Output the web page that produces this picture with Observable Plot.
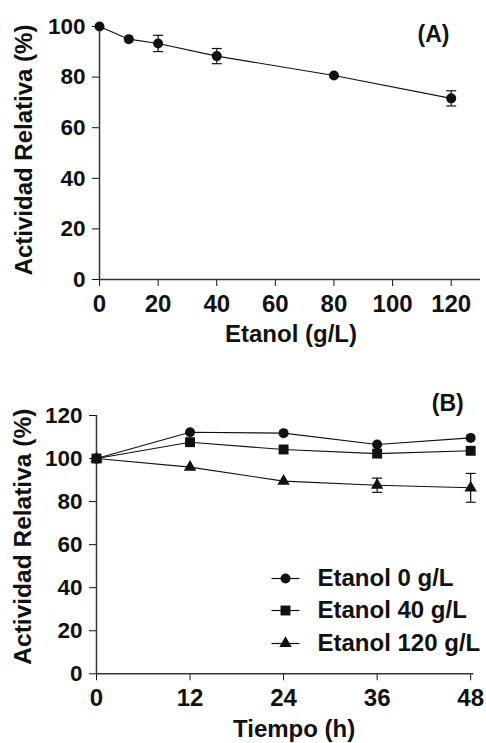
<!DOCTYPE html>
<html>
<head>
<meta charset="utf-8">
<script src="https://cdn.jsdelivr.net/npm/d3@7"></script>
<script src="https://cdn.jsdelivr.net/npm/@observablehq/plot@0.6"></script>
<style>
  html, body { margin: 0; padding: 0; background: #fff; }
  #chart svg { display: block; }
</style>
</head>
<body>
<div id="chart"></div>
<script>
// ---- Panel A data ----
const etanolA = [0, 10, 20, 40, 80, 120];
const actividadA = [100, 95.0, 93.3, 88.3, 80.6, 71.6];
const errorA = [0, 0, 3.2, 3.0, 0, 3.0];
const xTicksA = [0, 20, 40, 60, 80, 100, 120];
const yTicksA = [0, 20, 40, 60, 80, 100];

// ---- Panel B data ----
const tiempoB = [0, 12, 24, 36, 48];
const etanol0 = [100, 112.2, 111.8, 106.5, 109.6];
const etanol40 = [100, 107.6, 104.2, 102.3, 103.6];
const etanol120 = [100, 96.0, 89.5, 87.6, 86.4];
const error120 = [0, 0, 0, 3.3, 6.7];
const seriesNames = ["Etanol 0 g/L", "Etanol 40 g/L", "Etanol 120 g/L"];
const xTicksB = [0, 12, 24, 36, 48];
const yTicksB = [0, 20, 40, 60, 80, 100, 120];

const INK = "#111";
const FONT = "'Liberation Sans', Arial, sans-serif";
const hline = (w) => ({ draw(ctx) { ctx.moveTo(-w, 0); ctx.lineTo(w, 0); } });

const dataA = etanolA.map((x, i) => ({ x, y: actividadA[i], e: errorA[i] }));
const errA = dataA.filter(d => d.e > 0);

const plotA = Plot.plot({
  width: 486, height: 360,
  marginLeft: 99, marginRight: 6, marginTop: 26, marginBottom: 81,
  style: { fontFamily: FONT, fontWeight: "bold", color: INK, background: "#fff", overflow: "visible" },
  x: { domain: [0, 130] },
  y: { domain: [0, 100] },
  marks: [
    Plot.axisX({ ticks: xTicksA, tickSize: 7, tickPadding: 8, fontSize: 24, fontWeight: "bold", label: null, tickFormat: d => d }),
    Plot.axisY({ ticks: yTicksA, tickSize: 7, tickPadding: 7, fontSize: 22.5, fontWeight: "bold", label: null }),
    Plot.ruleX([0], { stroke: "#333", strokeWidth: 1.5 }),
    Plot.ruleY([0], { stroke: "#333", strokeWidth: 1.5 }),
    Plot.ruleX(errA, { x: "x", y1: d => d.y - d.e, y2: d => d.y + d.e, stroke: INK, strokeWidth: 1.2 }),
    Plot.dot(errA, { x: "x", y: d => d.y + d.e, symbol: hline(5), stroke: INK, strokeWidth: 1.2 }),
    Plot.dot(errA, { x: "x", y: d => d.y - d.e, symbol: hline(5), stroke: INK, strokeWidth: 1.2 }),
    Plot.line(dataA, { x: "x", y: "y", stroke: INK, strokeWidth: 1.1 }),
    Plot.dot(dataA, { x: "x", y: "y", r: 5, fill: INK, stroke: "none", symbol: "circle" }),
    Plot.text(["Actividad Relativa (%)"], { frameAnchor: "left", textAnchor: "middle", lineAnchor: "middle", dx: -75, dy: -3, rotate: -90, fontSize: 24, fontWeight: "bold", fill: INK }),
    Plot.text(["Etanol (g/L)"], { frameAnchor: "bottom", textAnchor: "middle", lineAnchor: "middle", dx: 1, dy: 55, fontSize: 24, fontWeight: "bold", fill: INK }),
    Plot.text(["(A)"], { frameAnchor: "top-right", textAnchor: "middle", lineAnchor: "middle", dx: -47, dy: 8, fontSize: 23, fontWeight: "bold", fill: INK })
  ]
});

const symbols = ["circle", "square", "triangle"];
const radii = [5, 5.6, 4.6];
const seriesVals = [etanol0, etanol40, etanol120];
const seriesErr = [null, null, error120];
const dataB = [];
seriesNames.forEach((name, s) => {
  tiempoB.forEach((t, i) => {
    dataB.push({ name, s, t, y: seriesVals[s][i], e: seriesErr[s] ? seriesErr[s][i] : 0 });
  });
});
const errB = dataB.filter(d => d.e > 0);
const legendRows = seriesNames.map((name, s) => ({ name, s }));
const legendDy = [163, 195, 228];

const marksB = [
  Plot.axisX({ ticks: xTicksB, tickSize: 7, tickPadding: 8, fontSize: 24, fontWeight: "bold", label: null }),
  Plot.axisY({ ticks: yTicksB, tickSize: 7, tickPadding: 7, fontSize: 22.5, fontWeight: "bold", label: null }),
  Plot.ruleX([0], { stroke: "#333", strokeWidth: 1.5 }),
  Plot.ruleY([0], { stroke: "#333", strokeWidth: 1.5 }),
  Plot.ruleX(errB, { x: "t", y1: d => d.y - d.e, y2: d => d.y + d.e, stroke: INK, strokeWidth: 1.2 }),
  Plot.dot(errB, { x: "t", y: d => d.y + d.e, symbol: hline(5), stroke: INK, strokeWidth: 1.2 }),
  Plot.dot(errB, { x: "t", y: d => d.y - d.e, symbol: hline(5), stroke: INK, strokeWidth: 1.2 }),
  Plot.line(dataB, { x: "t", y: "y", z: "name", stroke: INK, strokeWidth: 1.1 })
];
seriesNames.forEach((name, s) => {
  marksB.push(Plot.dot(dataB.filter(d => d.s === s), { x: "t", y: "y", r: radii[s], symbol: symbols[s], fill: INK, stroke: "none" }));
  const row = legendRows.filter(d => d.s === s);
  marksB.push(Plot.dot(row, { frameAnchor: "top-left", dx: 189, dy: legendDy[s], symbol: hline(14), stroke: INK, strokeWidth: 1.2 }));
  marksB.push(Plot.dot(row, { frameAnchor: "top-left", dx: 189, dy: legendDy[s], r: radii[s], symbol: symbols[s], fill: INK, stroke: "none" }));
  marksB.push(Plot.text(row, { frameAnchor: "top-left", dx: 221, dy: legendDy[s], text: "name", textAnchor: "start", lineAnchor: "middle", fontSize: 24, fontWeight: "bold", fill: INK }));
});
marksB.push(
  Plot.text(["Actividad Relativa (%)"], { frameAnchor: "left", textAnchor: "middle", lineAnchor: "middle", dx: -73, dy: -8, rotate: -90, fontSize: 24.5, fontWeight: "bold", fill: INK }),
  Plot.text(["Tiempo (h)"], { frameAnchor: "bottom", textAnchor: "middle", lineAnchor: "middle", dx: 9, dy: 56, fontSize: 24, fontWeight: "bold", fill: INK }),
  Plot.text(["(B)"], { frameAnchor: "top-right", textAnchor: "middle", lineAnchor: "middle", dx: -26, dy: -12, fontSize: 23, fontWeight: "bold", fill: INK })
);

const plotB = Plot.plot({
  width: 486, height: 383,
  marginLeft: 96, marginRight: 12.7, marginTop: 55, marginBottom: 69.7,
  style: { fontFamily: FONT, fontWeight: "bold", color: INK, background: "#fff", overflow: "visible" },
  x: { domain: [0, 48.4] },
  y: { domain: [0, 120] },
  marks: marksB
});

const root = document.getElementById("chart");
root.appendChild(plotA);
root.appendChild(plotB);
</script>
</body>
</html>
